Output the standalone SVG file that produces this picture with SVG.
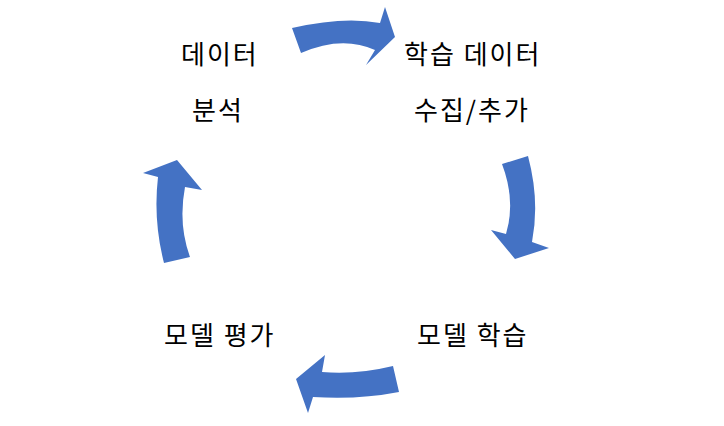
<svg xmlns="http://www.w3.org/2000/svg" width="724" height="426" viewBox="0 0 724 426">
<style>
.lbl{font-family:"Noto Sans CJK KR","Noto Sans",sans-serif;font-size:26px;letter-spacing:2px;fill:#000}
.arr{fill:#4472C4;stroke:none}
</style>
<rect width="724" height="426" fill="#fff"/>
<g id="connectors">
<path class="arr" d="M292,28 Q344,16 380,23 L385,7 L395,37 L366,65 L375,50 Q342,35 301,53 Z"/>
<path class="arr" d="M502,164 L528,156 Q540,201 532,242 L549,248 L515,259 L491,230 L506,234 Q516,201 502,164 Z"/>
<path class="arr" d="M393,366 L399,392 Q358,400 313,397 L308,413 L296,379 L325,355 L322,372 Q356,375 393,366 Z"/>
<path class="arr" d="M164,263 L190,257 Q178,224 185,187 L202,190 L177,160 L143,173 L158,177 Q153,220 164,263 Z"/>
</g>
<g id="node-analysis">
<text class="lbl" x="181" y="64">데이터</text>
<text class="lbl" x="192" y="120">분석</text>
</g>
<g id="node-collect">
<text class="lbl" x="404" y="64">학습 데이터</text>
<text class="lbl" x="414" y="120">수집/추가</text>
</g>
<g id="node-train">
<text class="lbl" x="417" y="345">모델 학습</text>
</g>
<g id="node-eval">
<text class="lbl" x="164" y="345">모델 평가</text>
</g>
</svg>
